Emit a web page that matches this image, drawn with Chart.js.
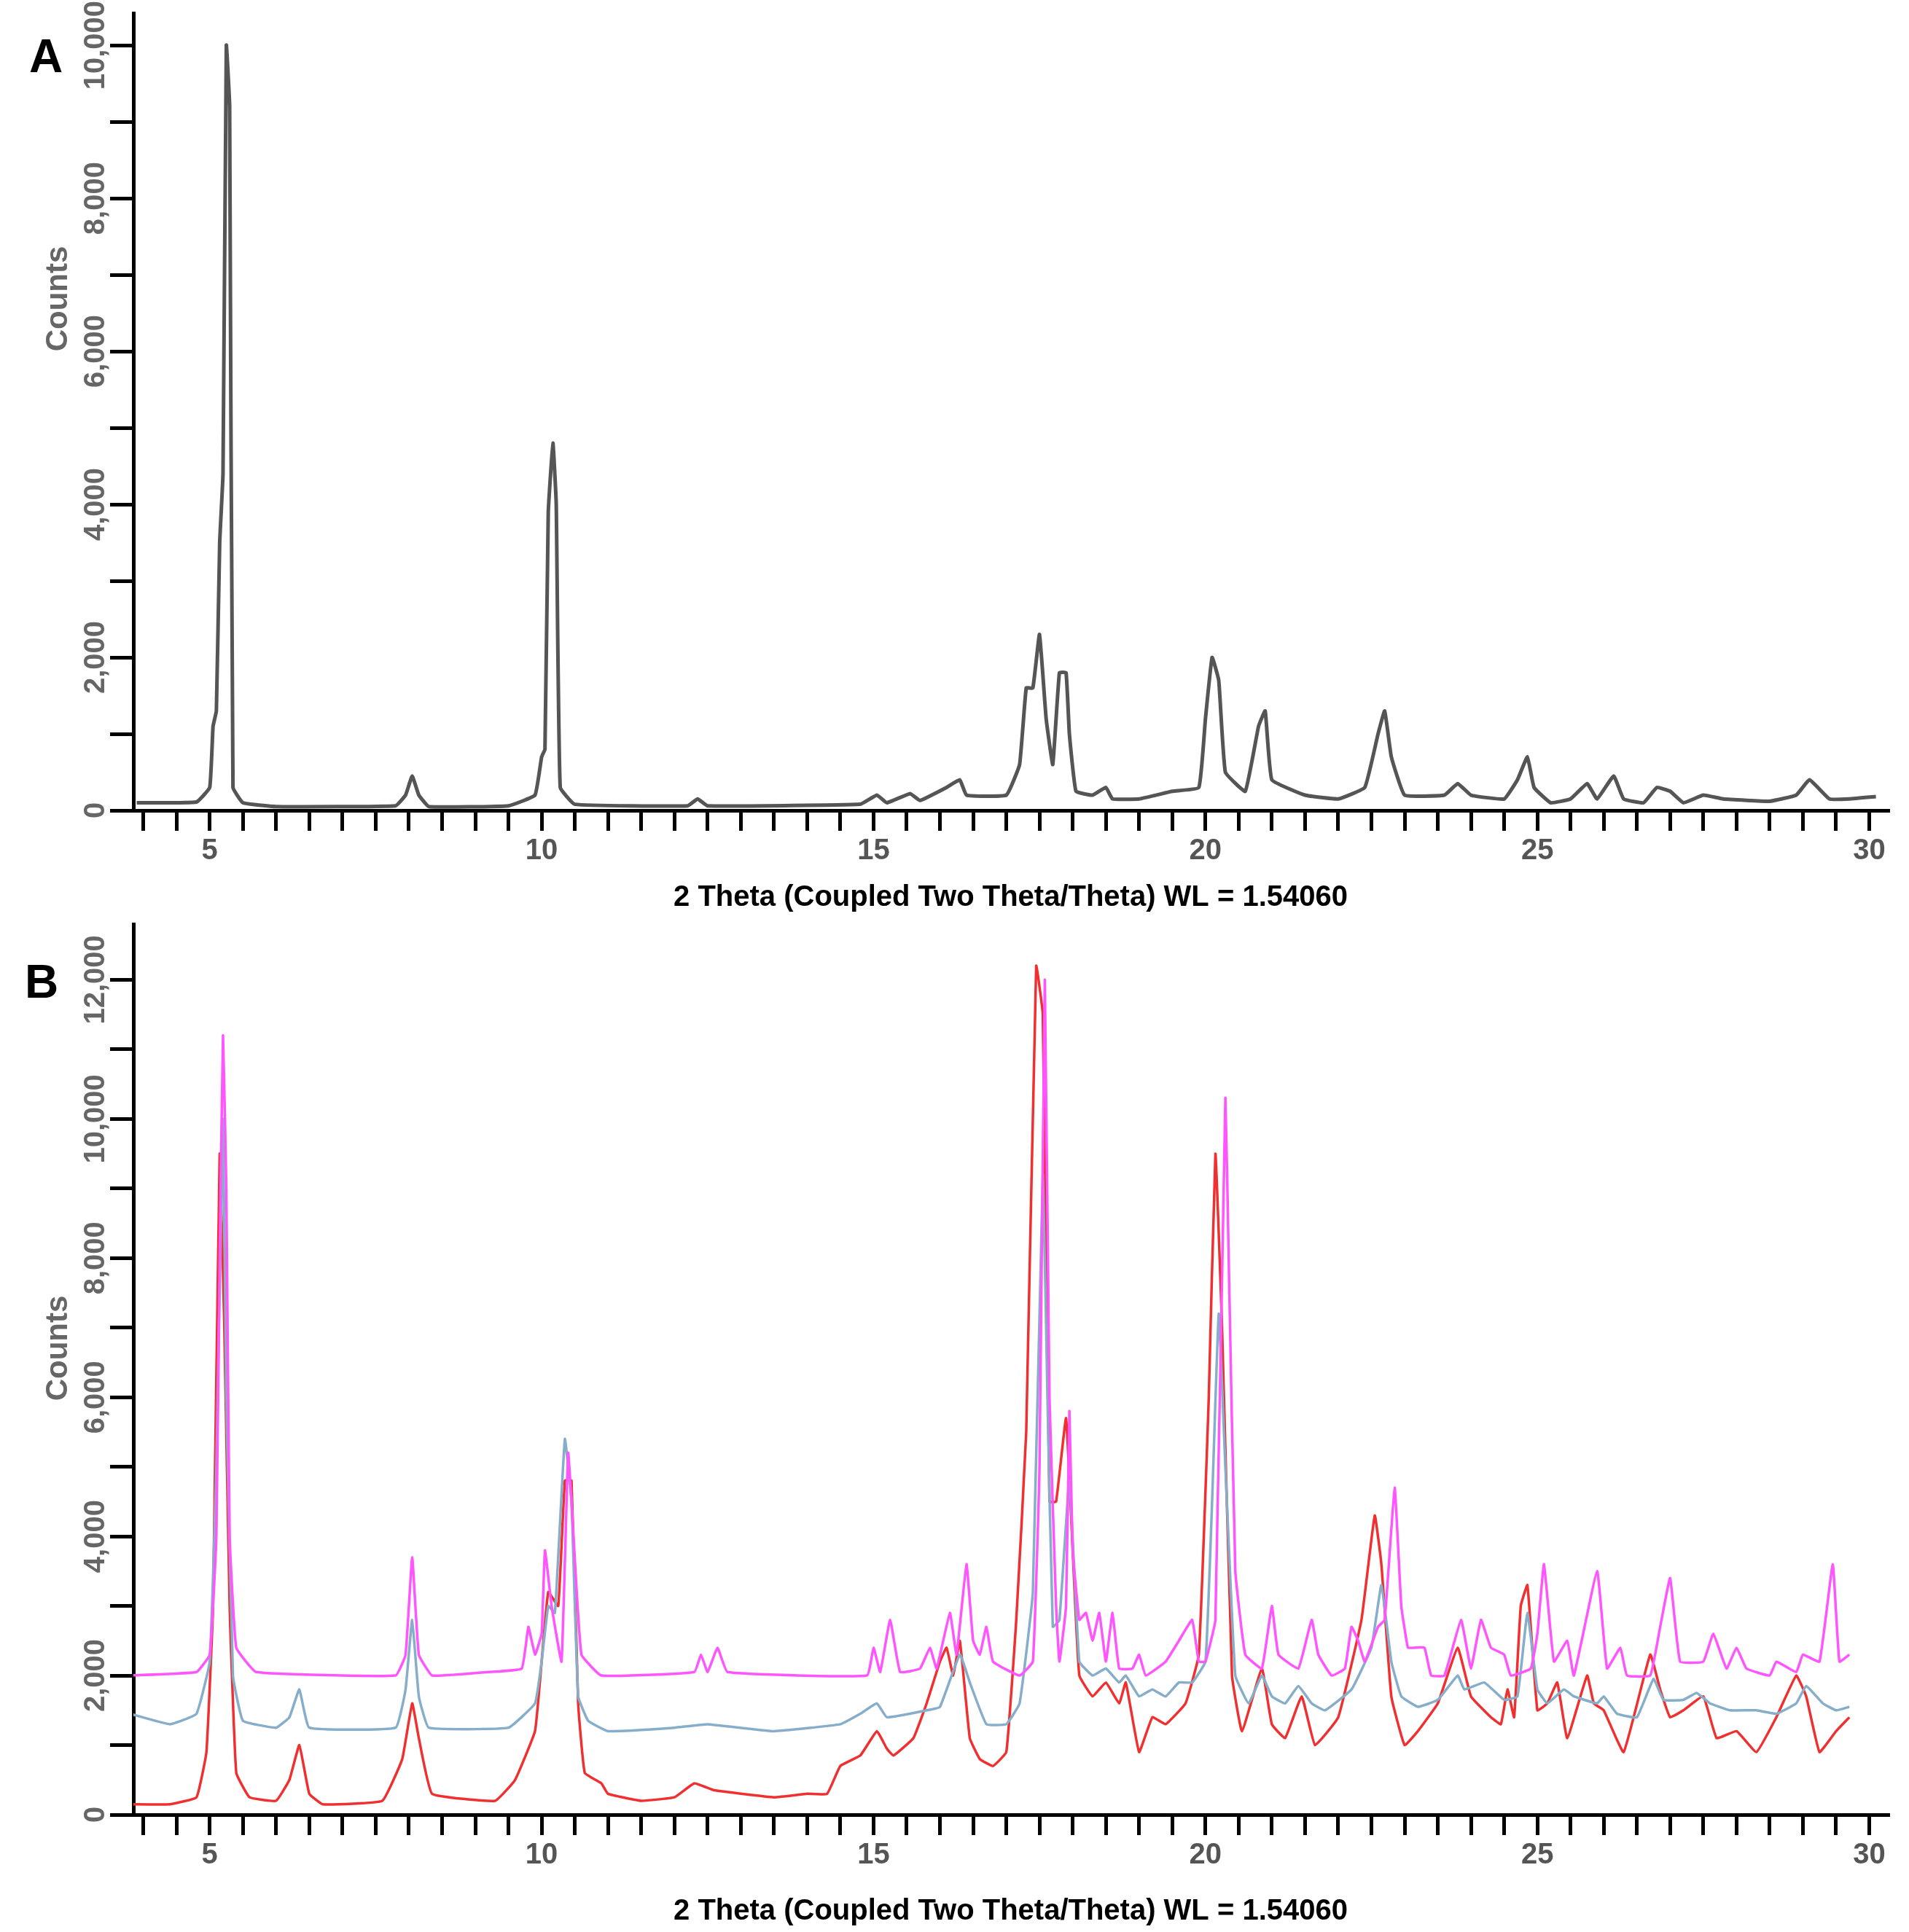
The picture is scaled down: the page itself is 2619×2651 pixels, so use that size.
<!DOCTYPE html>
<html>
<head>
<meta charset="utf-8">
<script src="https://cdn.jsdelivr.net/npm/chart.js@4.4.0/dist/chart.umd.min.js"></script>
<style>
  body { margin: 0; background: #fff; }
  .panel { position: absolute; left: 0; width: 2619px; }
  .letter { position: absolute; font: bold 64px "Liberation Sans", Arial, sans-serif; color: #000; }
</style>
</head>
<body>
<div class="panel" style="top:0;height:1260px"><canvas id="chartA"></canvas></div>
<div class="panel" style="top:1260px;height:1391px"><canvas id="chartB"></canvas></div>
<div class="letter" style="left:40px;top:40px">A</div>
<div class="letter" style="left:34px;top:1310px">B</div>
<script>
// 2 theta / counts pairs
var sampleA = [
  [3.9,100],[4.8,110],[5.0,300],[5.05,1100],[5.1,1300],[5.15,3500],[5.2,4400],[5.25,10000],[5.3,9200],[5.35,300],[5.5,100],[6,50],
  [7.8,60],[7.95,200],[8.05,450],[8.15,200],[8.3,50],[9.5,60],[9.9,200],[10.0,700],[10.05,800],[10.1,3900],[10.17,4800],[10.22,4000],[10.28,300],[10.5,80],
  [12.2,60],[12.35,150],[12.5,60],[14.8,80],[15.05,200],[15.2,100],[15.55,220],[15.7,130],[16.1,300],[16.3,400],[16.4,200],
  [17.0,200],[17.2,600],[17.3,1600],[17.4,1600],[17.5,2300],[17.6,1200],[17.7,600],[17.8,1800],[17.9,1800],[17.95,1000],[18.05,250],
  [18.3,200],[18.5,300],[18.6,150],[19.0,150],[19.5,250],[19.9,300],[20.0,1200],[20.1,2000],[20.2,1700],[20.3,500],[20.6,250],
  [20.8,1100],[20.9,1300],[21.0,400],[21.5,200],[22.0,150],[22.4,300],[22.6,1000],[22.7,1300],[22.8,700],[23.0,200],[23.6,200],
  [23.8,350],[24.0,200],[24.5,150],[24.7,400],[24.85,700],[24.95,300],[25.2,100],[25.5,150],[25.75,350],[25.9,150],[26.15,450],
  [26.3,150],[26.6,100],[26.8,300],[27.0,250],[27.2,100],[27.5,200],[27.8,150],[28.5,120],[28.9,200],[29.1,400],[29.4,150],[29.7,150],[30.1,180]
];

var magentaB = [
  [3.8,2000],[4.8,2050],[5.0,2300],[5.1,4000],[5.15,8000],[5.2,11200],[5.25,9000],[5.3,4000],[5.4,2400],[5.7,2050],
  [7.8,2000],[7.95,2300],[8.05,3700],[8.15,2300],[8.35,2000],[9.2,2050],[9.7,2100],[9.8,2700],[9.9,2300],[10.0,2600],
  [10.05,3800],[10.15,3000],[10.3,2200],[10.4,5200],[10.48,4000],[10.6,2300],[10.9,2000],[12.3,2050],[12.4,2300],[12.5,2050],
  [12.65,2400],[12.8,2050],[14.9,2000],[15.0,2400],[15.1,2050],[15.25,2800],[15.4,2050],[15.7,2100],[15.85,2400],[15.95,2100],
  [16.15,2900],[16.25,2300],[16.4,3600],[16.5,2500],[16.6,2300],[16.7,2700],[16.8,2200],[17.2,2000],[17.4,2200],[17.5,5000],
  [17.58,12000],[17.65,6000],[17.75,3000],[17.8,2200],[17.9,3000],[17.95,5800],[18.0,3800],[18.1,2800],[18.2,2900],[18.3,2500],
  [18.4,2900],[18.5,2200],[18.6,2900],[18.7,2100],[18.9,2100],[19.0,2300],[19.1,2000],[19.4,2200],[19.6,2500],[19.8,2800],
  [19.9,2200],[20.0,2200],[20.15,2800],[20.3,10300],[20.35,8000],[20.45,3500],[20.6,2300],[20.85,2100],[21.0,3000],[21.1,2300],
  [21.4,2100],[21.6,2800],[21.7,2300],[21.9,2000],[22.1,2100],[22.2,2700],[22.3,2500],[22.4,2200],[22.6,2700],[22.7,2800],
  [22.85,4700],[22.95,3000],[23.05,2400],[23.15,2400],[23.3,2400],[23.4,2000],[23.6,2000],[23.85,2800],[24.0,2100],[24.15,2800],
  [24.3,2400],[24.5,2300],[24.6,2000],[24.9,2100],[25.0,2600],[25.1,3600],[25.25,2200],[25.45,2500],[25.55,2000],[25.9,3500],
  [26.05,2100],[26.25,2400],[26.35,2000],[26.7,2000],[26.85,2700],[27.0,3400],[27.15,2200],[27.5,2200],[27.65,2600],[27.85,2100],
  [28.0,2400],[28.15,2100],[28.5,2000],[28.6,2200],[28.9,2050],[29.0,2300],[29.25,2200],[29.45,3600],[29.55,2200],[29.7,2300]
];

var blueB = [
  [3.8,1450],[4.4,1300],[4.8,1450],[5.0,2200],[5.1,5000],[5.2,10000],[5.25,6000],[5.35,2000],[5.5,1350],[6.0,1250],[6.2,1400],
  [6.35,1800],[6.5,1250],[7.8,1250],[7.95,1800],[8.05,2800],[8.15,1700],[8.3,1250],[9.5,1250],[9.9,1600],[10.0,2200],[10.1,3000],
  [10.2,2900],[10.35,5400],[10.45,4500],[10.55,1700],[10.7,1350],[11.0,1200],[12.0,1250],[12.5,1300],[13.5,1200],[14.5,1300],
  [14.8,1450],[15.05,1600],[15.2,1400],[15.8,1500],[16.0,1550],[16.3,2300],[16.45,1900],[16.7,1300],[17.0,1300],[17.2,1600],
  [17.4,3200],[17.55,9200],[17.62,6000],[17.7,2700],[17.8,2800],[17.95,4800],[18.1,2200],[18.3,2000],[18.5,2100],[18.7,1900],
  [18.8,2000],[19.0,1700],[19.2,1800],[19.4,1700],[19.6,1900],[19.8,1900],[20.0,2200],[20.1,4500],[20.2,7200],[20.3,5000],
  [20.45,2000],[20.65,1600],[20.85,2000],[21.0,1700],[21.2,1600],[21.4,1850],[21.6,1600],[21.8,1500],[22.2,1800],[22.5,2400],
  [22.65,3300],[22.8,2200],[22.95,1700],[23.2,1550],[23.5,1650],[23.8,2000],[23.9,1800],[24.2,1900],[24.5,1650],[24.7,1700],
  [24.85,2900],[25.0,1800],[25.15,1600],[25.4,1800],[25.55,1700],[25.9,1600],[26.0,1700],[26.2,1450],[26.5,1400],[26.75,1950],
  [26.9,1650],[27.2,1650],[27.4,1750],[27.6,1600],[27.9,1500],[28.3,1500],[28.6,1450],[28.9,1600],[29.05,1850],[29.3,1600],
  [29.5,1500],[29.7,1550]
];

var redB = [
  [3.8,150],[4.4,150],[4.8,250],[4.95,900],[5.05,3000],[5.15,9500],[5.22,7000],[5.3,3000],[5.4,600],[5.6,250],[6.0,200],
  [6.2,500],[6.35,1000],[6.5,300],[6.7,150],[7.6,200],[7.9,800],[8.05,1600],[8.15,1100],[8.35,300],[9.3,200],[9.6,500],
  [9.9,1200],[10.0,2200],[10.1,3200],[10.25,3000],[10.35,4800],[10.45,4800],[10.55,1600],[10.65,600],[10.9,450],[11.0,300],
  [11.5,200],[12.0,250],[12.3,450],[12.6,350],[13.5,250],[14.0,300],[14.3,300],[14.5,700],[14.8,850],[15.05,1200],[15.2,950],
  [15.3,850],[15.6,1100],[15.8,1600],[16.0,2200],[16.1,2400],[16.2,2000],[16.3,2500],[16.45,1100],[16.6,800],[16.8,700],
  [17.0,900],[17.15,2800],[17.3,5500],[17.45,12200],[17.55,11500],[17.65,4500],[17.75,4500],[17.9,5700],[18.0,3800],[18.1,2000],
  [18.3,1700],[18.5,1900],[18.7,1600],[18.8,1900],[19.0,900],[19.2,1400],[19.4,1300],[19.7,1600],[19.9,2300],[20.05,6000],
  [20.15,9500],[20.25,7000],[20.4,2000],[20.55,1200],[20.85,2100],[21.0,1300],[21.2,1100],[21.45,1700],[21.65,1000],[22.0,1400],
  [22.35,2800],[22.55,4300],[22.65,3600],[22.8,1700],[23.0,1000],[23.2,1200],[23.5,1600],[23.8,2400],[24.0,1700],[24.3,1400],
  [24.45,1300],[24.55,1800],[24.65,1400],[24.75,3000],[24.85,3300],[25.0,1500],[25.15,1600],[25.3,1900],[25.45,1100],[25.75,2000],
  [25.85,1600],[26.0,1500],[26.3,900],[26.7,2300],[26.85,1800],[27.0,1400],[27.2,1500],[27.5,1700],[27.7,1100],[28.0,1200],
  [28.3,900],[28.6,1400],[28.9,2000],[29.05,1700],[29.25,900],[29.5,1200],[29.7,1400]
];

var xTitle = '2 Theta (Coupled Two Theta/Theta) WL = 1.54060';

function pts(arr) {
  return arr.map(function (p) { return { x: p[0], y: p[1] }; });
}

// y labels drawn rotated, like the instrument software does
var yLabelPlugin = {
  id: 'yLabels',
  afterDraw: function (chart) {
    var ctx = chart.ctx, ys = chart.scales.y;
    ctx.save();
    ctx.fillStyle = '#666';
    ctx.font = 'bold 40px "Liberation Sans", Arial, sans-serif';
    ctx.textAlign = 'center';
    ctx.textBaseline = 'middle';
    for (var v = 0; v <= ys.max; v += 2000) {
      var py = ys.getPixelForValue(v);
      ctx.save();
      ctx.translate(132, py);
      ctx.rotate(-Math.PI / 2);
      ctx.fillText(v.toLocaleString('en-US'), 0, 0);
      ctx.restore();
    }
    ctx.font = 'bold 42px "Liberation Sans", Arial, sans-serif';
    ctx.save();
    ctx.translate(80, chart.options.countsY);
    ctx.rotate(-Math.PI / 2);
    ctx.fillText('Counts', 0, 0);
    ctx.restore();
    ctx.restore();
  }
};

function makeOptions(yMax, xH, countsY, padTop) {
  return {
    responsive: true,
    maintainAspectRatio: false,
    animation: false,
    countsY: countsY,
    layout: { padding: { top: padTop, right: 29, left: 0, bottom: 0 } },
    plugins: { legend: { display: false }, tooltip: { enabled: false } },
    elements: { point: { radius: 0 }, line: { tension: 0.1 } },
    scales: {
      x: {
        type: 'linear', min: 3.85, max: 30.28,
        afterBuildTicks: function (s) {
          var t = [];
          for (var v = 4; v <= 30; v += 0.5) t.push({ value: v });
          s.ticks = t;
        },
        afterFit: function (s) { s.height = xH; },
        border: { color: '#000', width: 5 },
        grid: { drawOnChartArea: false, drawTicks: true, tickLength: 28, tickColor: '#000', lineWidth: 5 },
        ticks: {
          autoSkip: false, maxRotation: 0, color: '#555', padding: 4,
          font: { family: '"Liberation Sans", Arial, sans-serif', size: 40, weight: 'bold' },
          callback: function (v) { return v % 5 === 0 ? String(v) : ''; }
        },
        title: {
          display: true, text: xTitle, color: '#000', padding: { top: 4 },
          font: { family: '"Liberation Sans", Arial, sans-serif', size: 40, weight: 'bold' }
        }
      },
      y: {
        min: 0, max: yMax,
        afterBuildTicks: function (s) {
          var t = [];
          for (var v = 0; v <= yMax; v += 1000) t.push({ value: v });
          s.ticks = t;
        },
        afterFit: function (s) { s.width = 183; },
        border: { color: '#000', width: 5 },
        grid: { drawOnChartArea: false, drawTicks: true, tickLength: 32, tickColor: '#000', lineWidth: 5 },
        ticks: { display: false }
      }
    }
  };
}

new Chart(document.getElementById('chartA'), {
  type: 'line',
  data: { datasets: [{ data: pts(sampleA), borderColor: '#555', borderWidth: 5, fill: false }] },
  options: makeOptions(10420, 148, 410, 18),
  plugins: [yLabelPlugin]
});

new Chart(document.getElementById('chartB'), {
  type: 'line',
  data: {
    datasets: [
      { data: pts(magentaB), borderColor: '#ff55ff', borderWidth: 3.5, fill: false },
      { data: pts(blueB), borderColor: '#86aecb', borderWidth: 3.5, fill: false },
      { data: pts(redB), borderColor: '#f03030', borderWidth: 3.5, fill: false }
    ]
  },
  options: makeOptions(12800, 161, 590, 8),
  plugins: [yLabelPlugin]
});
</script>
</body>
</html>
